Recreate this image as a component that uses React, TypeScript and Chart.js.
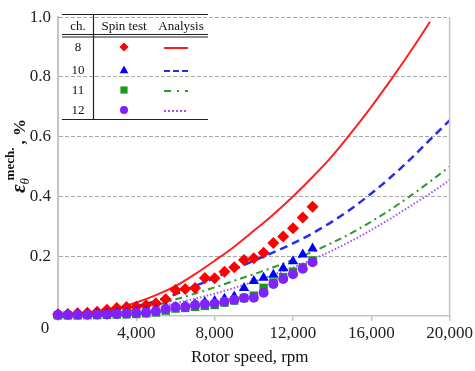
import React, { useEffect, useRef } from "react";
import { Chart, registerables } from "chart.js";

Chart.register(...registerables);

const FONT = "'Liberation Serif', 'Times New Roman', serif";

// Rotor speeds (rpm) of spin-test readings
const spinRpm = [0, 500, 1000, 1500, 2000, 2500, 3000, 3500, 4000, 4500, 5000, 5500, 6000, 6500, 7000, 7500, 8000, 8500, 9000, 9500, 10000, 10500, 11000, 11500, 12000, 12500, 13000];
// Spin test strain (%) by channel
const spinCh8 = [0.006, 0.007, 0.009, 0.011, 0.014, 0.021, 0.027, 0.03, 0.031, 0.036, 0.043, 0.056, 0.087, 0.09, 0.094, 0.127, 0.126, 0.148, 0.163, 0.187, 0.193, 0.212, 0.244, 0.266, 0.294, 0.33, 0.366];
const spinCh10 = [0.004, 0.004, 0.005, 0.006, 0.007, 0.008, 0.009, 0.011, 0.013, 0.016, 0.02, 0.025, 0.03, 0.033, 0.039, 0.046, 0.05, 0.058, 0.065, 0.094, 0.117, 0.128, 0.138, 0.16, 0.183, 0.206, 0.226];
const spinCh11 = [0.002, 0.002, 0.002, 0.003, 0.003, 0.004, 0.005, 0.006, 0.007, 0.009, 0.012, 0.018, 0.025, 0.027, 0.031, 0.034, 0.037, 0.045, 0.052, 0.06, 0.068, 0.094, 0.112, 0.13, 0.148, 0.163, 0.186];
const spinCh12 = [0.004, 0.004, 0.004, 0.004, 0.005, 0.005, 0.007, 0.008, 0.01, 0.012, 0.016, 0.024, 0.03, 0.031, 0.037, 0.04, 0.042, 0.048, 0.054, 0.06, 0.061, 0.078, 0.107, 0.124, 0.14, 0.158, 0.18];

// Analysis curves
const anaRpm = [0, 1000, 2000, 3000, 4000, 5000, 6000, 7000, 8000, 9000, 10000, 11000, 12000, 13000, 14000, 15000, 16000, 17000, 18000, 19000, 20000];
const anaCh8 = [0.003, 0.005, 0.012, 0.025, 0.045, 0.07, 0.1, 0.14, 0.185, 0.232, 0.285, 0.34, 0.4, 0.465, 0.535, 0.615, 0.7, 0.79, 0.885, 0.985];
const anaCh10 = [0.002, 0.004, 0.008, 0.017, 0.032, 0.05, 0.073, 0.1, 0.128, 0.156, 0.185, 0.213, 0.243, 0.277, 0.316, 0.36, 0.41, 0.465, 0.525, 0.59, 0.655];
const anaCh11 = [0.002, 0.003, 0.006, 0.012, 0.022, 0.036, 0.055, 0.075, 0.096, 0.118, 0.14, 0.163, 0.188, 0.215, 0.245, 0.278, 0.316, 0.357, 0.402, 0.45, 0.5];
const anaCh12 = [0.001, 0.002, 0.005, 0.01, 0.018, 0.03, 0.043, 0.058, 0.075, 0.094, 0.115, 0.138, 0.162, 0.189, 0.219, 0.252, 0.288, 0.327, 0.368, 0.41, 0.455];

const channels = ["8", "10", "11", "12"];
const xTicks = [0, 4000, 8000, 12000, 16000, 20000];
const yTicks = [0, 0.2, 0.4, 0.6, 0.8, 1.0];

const RED = "#ff0000";
const BLUE = "#0000ff";
const GREEN = "#1a9a1a";
const PURPLE = "#7f22ff";

const toXY = (xs: number[], ys: number[]) => ys.map((y, i) => ({ x: xs[i], y }));

function drawMarker(ctx: CanvasRenderingContext2D, type: string, x: number, y: number, r: number, color: string) {
  ctx.save();
  ctx.fillStyle = color;
  ctx.beginPath();
  if (type === "diamond") {
    ctx.moveTo(x, y - r); ctx.lineTo(x + r, y); ctx.lineTo(x, y + r); ctx.lineTo(x - r, y); ctx.closePath();
  } else if (type === "triangle") {
    ctx.moveTo(x, y - r); ctx.lineTo(x + r * 0.95, y + r * 0.7); ctx.lineTo(x - r * 0.95, y + r * 0.7); ctx.closePath();
  } else if (type === "square") {
    ctx.rect(x - r * 0.8, y - r * 0.8, r * 1.6, r * 1.6);
  } else {
    ctx.arc(x, y, r, 0, Math.PI * 2);
  }
  ctx.fill();
  ctx.restore();
}

const customPlugin = {
  id: "custom",
  afterDraw(chart: any) {
    const ctx: CanvasRenderingContext2D = chart.ctx;
    const a = chart.chartArea;
    ctx.save();
    // right border
    ctx.strokeStyle = "#c4c4c4";
    ctx.lineWidth = 1.5;
    ctx.beginPath();
    ctx.moveTo(a.right, a.top);
    ctx.lineTo(a.right, a.bottom + 1);
    ctx.stroke();

    // origin label
    ctx.fillStyle = "#222";
    ctx.font = `17px ${FONT}`;
    ctx.textAlign = "center";
    ctx.textBaseline = "middle";
    ctx.fillText("0", 45, 329);

    // x title
    ctx.fillStyle = "#111";
    ctx.fillText("Rotor speed, rpm", (a.left + a.right) / 2 - 4, 358);

    // y title
    ctx.save();
    ctx.translate(25, 193);
    ctx.rotate(-Math.PI / 2);
    ctx.textAlign = "left";
    ctx.textBaseline = "alphabetic";
    ctx.font = `bold italic 21px ${FONT}`;
    ctx.fillText("ε", 0, 0);
    const eW = ctx.measureText("ε").width;
    ctx.font = `italic 13px ${FONT}`;
    ctx.fillText("θ", eW, 4);
    ctx.font = `bold 13px ${FONT}`;
    ctx.fillText("mech.", eW + 4, -11);
    const mW = ctx.measureText("mech.").width;
    ctx.font = `bold 17px ${FONT}`;
    ctx.fillText(", %", eW + 4 + mW + 3, 0);
    ctx.restore();

    // legend table
    ctx.strokeStyle = "#222";
    ctx.lineWidth = 1.2;
    ctx.beginPath();
    ctx.moveTo(62, 14.5); ctx.lineTo(208, 14.5);
    ctx.moveTo(62, 34.5); ctx.lineTo(208, 34.5);
    ctx.moveTo(62, 37); ctx.lineTo(208, 37);
    ctx.moveTo(62, 119.5); ctx.lineTo(208, 119.5);
    ctx.moveTo(93.5, 14.5); ctx.lineTo(93.5, 119.5);
    ctx.stroke();

    ctx.fillStyle = "#111";
    ctx.font = `13px ${FONT}`;
    ctx.textAlign = "center";
    ctx.textBaseline = "middle";
    ctx.fillText("ch.", 78, 27);
    ctx.fillText("Spin test", 124, 27);
    ctx.fillText("Analysis", 181, 27);

    const rowsY = [47, 70, 90, 110];
    const markers = ["diamond", "triangle", "square", "circle"];
    const colors = [RED, BLUE, GREEN, PURPLE];
    const lineColors = ["#ff2020", "#2a2af0", "#2e9a2e", "#a050ff"];
    const dashes = [[], [6, 3], [7, 6, 2, 6], [2, 2]];
    channels.forEach((c, i) => {
      ctx.fillStyle = "#111";
      ctx.fillText(c, 78, rowsY[i] + 1);
      drawMarker(ctx, markers[i], 124, rowsY[i], i === 3 ? 4 : 4.5, colors[i]);
      ctx.save();
      ctx.strokeStyle = lineColors[i];
      ctx.lineWidth = 2;
      ctx.setLineDash(dashes[i]);
      ctx.beginPath();
      ctx.moveTo(164, rowsY[i] + 1);
      ctx.lineTo(188, rowsY[i] + 1);
      ctx.stroke();
      ctx.restore();
    });
    ctx.restore();
  },
};

export default function App() {
  const ref = useRef<HTMLCanvasElement | null>(null);
  useEffect(() => {
    if (!ref.current) return;
    const lineDs = (data: number[], color: string, dash: number[], width: number) => ({
      type: "line" as const,
      data: toXY(anaRpm, data),
      borderColor: color,
      borderWidth: width,
      borderDash: dash,
      pointRadius: 0,
      fill: false,
      cubicInterpolationMode: "monotone" as const,
      order: 10,
    });
    const scatterDs = (data: number[], color: string, style: string, r: number, order: number) => ({
      type: "scatter" as const,
      data: toXY(spinRpm, data),
      backgroundColor: color,
      borderColor: color,
      borderWidth: 0,
      pointStyle: style,
      pointRadius: r,
      clip: false,
      order,
    });
    const chart = new Chart(ref.current, {
      type: "scatter",
      data: {
        datasets: [
          lineDs(anaCh8, "#ff2020", [], 2),
          lineDs(anaCh10, "#2a2af0", [8, 5], 2.5),
          lineDs(anaCh11, "#2e9a2e", [7, 4, 2, 4], 2),
          lineDs(anaCh12, "#a050ff", [1.5, 2], 2),
          scatterDs(spinCh8, RED, "rectRot", 6, 4),
          scatterDs(spinCh10, BLUE, "triangle", 6, 3),
          scatterDs(spinCh11, GREEN, "rect", 6, 2),
          scatterDs(spinCh12, PURPLE, "circle", 5, 1),
        ] as any,
      },
      options: {
        animation: false,
        responsive: false,
        layout: { padding: { top: 10, right: 18, left: 0, bottom: 0 } },
        plugins: { legend: { display: false }, tooltip: { enabled: false } },
        scales: {
          x: {
            type: "linear",
            min: 0,
            max: 20000,
            afterFit: (s: any) => { s.height = 55; },
            afterBuildTicks: (s: any) => { s.ticks = xTicks.map((v) => ({ value: v })); },
            grid: { drawOnChartArea: false, drawTicks: true, tickLength: 5, color: "#c4c4c4", lineWidth: 1.5 },
            border: { display: true, color: "#c4c4c4", width: 1.5 },
            ticks: {
              padding: 2,
              color: "#222",
              font: { family: FONT, size: 17 },
              maxRotation: 0,
              autoSkip: false,
              callback: (v: any) => (v === 0 ? "" : Number(v).toLocaleString("en-US")),
            },
          },
          y: {
            type: "linear",
            min: 0,
            max: 1.0,
            afterFit: (s: any) => { s.width = 58; },
            afterBuildTicks: (s: any) => { s.ticks = yTicks.map((v) => ({ value: v })); },
            grid: {
              drawTicks: false,
              color: (c: any) => (c.tick && c.tick.value === 0 ? "rgba(0,0,0,0)" : "#a8a8a8"),
              lineWidth: 1,
            },
            border: { display: true, color: "#c4c4c4", width: 2, dash: [4, 2] },
            ticks: {
              padding: 7,
              color: "#222",
              font: { family: FONT, size: 17 },
              callback: (v: any) => (v === 0 ? "" : Number(v).toFixed(1)),
            },
          },
        },
      },
      plugins: [customPlugin],
    });
    return () => chart.destroy();
  }, []);
  return (
    <div style={{ position: "absolute", left: 0, top: 0, width: 475, height: 371, background: "#fff" }}>
      <canvas ref={ref} width={475} height={371} style={{ width: 475, height: 371 }} />
    </div>
  );
}
